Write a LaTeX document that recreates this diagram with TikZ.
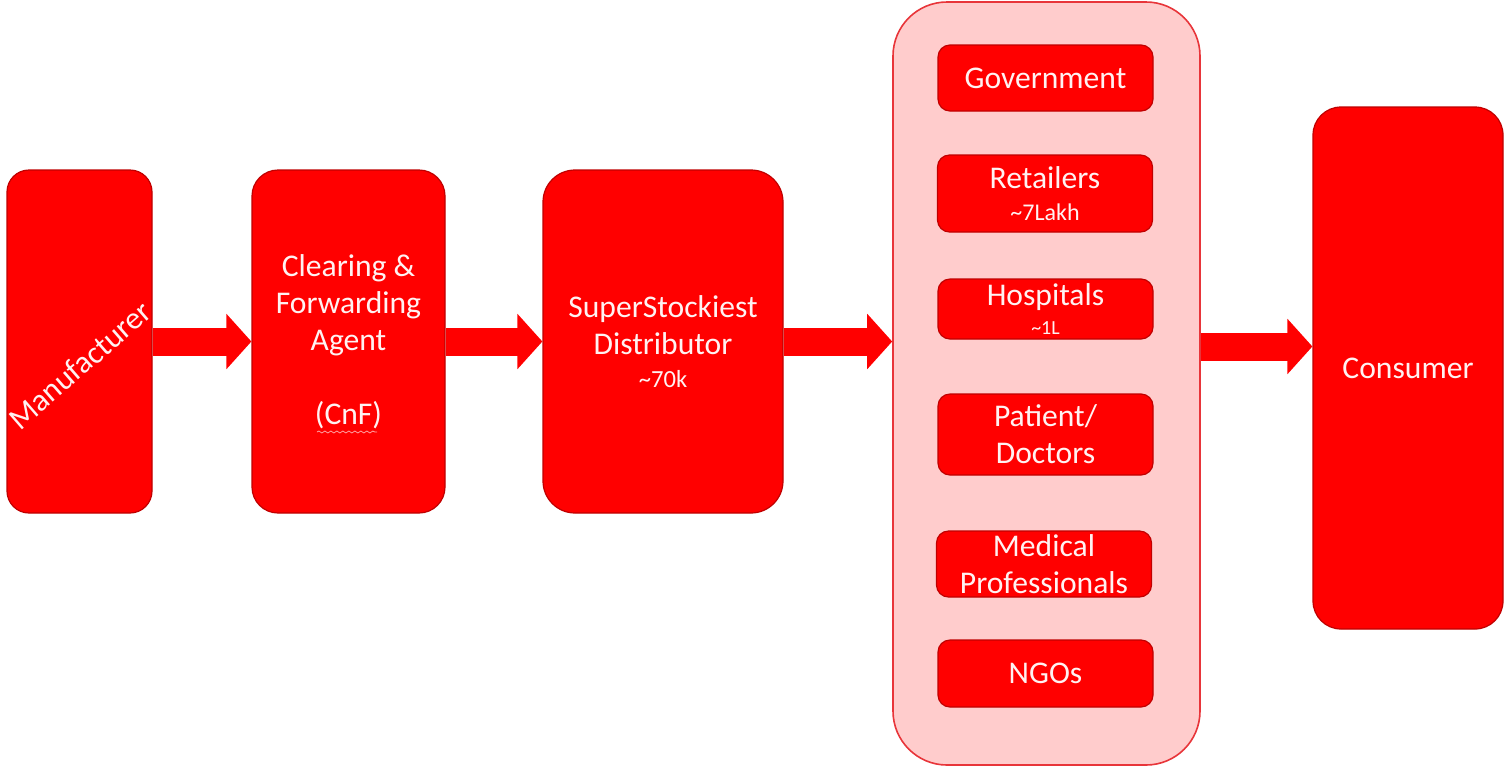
\documentclass[tikz,border=0pt]{standalone}
\usepackage{fontspec}
\setmainfont{Carlito}
\usetikzlibrary{arrows.meta,decorations.pathmorphing}
\definecolor{boxred}{HTML}{FF0000}
\definecolor{edgered}{HTML}{C00000}
\definecolor{panelpink}{HTML}{FFCCCC}
\definecolor{paneledge}{HTML}{E8353A}
\definecolor{txt}{HTML}{FFF2F2}
\tikzset{
  redbox/.style={draw=edgered, line width=0.6pt, fill=boxred, rounded corners=#1,
    text=txt, align=center, inner sep=0pt, font=\fontsize{15.8}{18.5}\selectfont},
  redbox/.default=11pt,
  subbox/.style={redbox=6pt, minimum width=107.5pt},
  blockarrow/.style={draw=boxred, line width=14pt, line cap=butt,
    -{Triangle[width=27pt,length=12.5pt]}},
}
\begin{document}
\begin{tikzpicture}[x=0.5pt,y=-0.5pt]
\path[use as bounding box, fill=white] (0,0) rectangle (1505,767);

% main chain
\node[redbox=11pt, minimum width=72.5pt, minimum height=171.5pt] (man) at (79.5,341.5) {};
\node[rotate=41, text=txt, inner sep=0pt, font=\fontsize{15.8}{18}\selectfont] (manlabel) at (80,365) {Manufacturer};

\node[redbox=13pt, minimum width=96.5pt, minimum height=171.5pt] (cnf) at (348.5,341.5)
  {Clearing \&\\Forwarding\\Agent\\[18.5pt](CnF)};
\draw[txt!70!red, line width=0.4pt, decorate,
  decoration={snake, segment length=3pt, amplitude=0.5pt}]
  (317,432) -- (377,432);

\node[redbox=16pt, minimum width=120pt, minimum height=171.5pt] (ss) at (663,341.5)
  {SuperStockiest\\Distributor\\[-2pt]{\fontsize{12.3}{13}\selectfont \char"7E 70k}};

% panel
\node[draw=paneledge, line width=0.8pt, fill=panelpink, rounded corners=27pt,
  minimum width=153.5pt, minimum height=381.5pt, inner sep=0pt] (panel) at (1046.5,383.5) {};

\node[subbox, minimum height=33pt] (gov) at (1045.5,78) {\raisebox{-1pt}{Government}};
\node[subbox, minimum height=38.5pt] (ret) at (1045,193.5)
  {Retailers\\[-2.5pt]{\fontsize{12}{13}\selectfont \char"7E 7Lakh}};
\node[subbox, minimum height=30pt] (hosp) at (1045.5,309)
  {Hospitals\\[-4pt]{\fontsize{10}{11}\selectfont \char"7E 1L}};
\node[subbox, minimum height=40.5pt] (pat) at (1045.5,434.5) {Patient/\\Doctors};
\node[subbox, minimum height=33pt] (med) at (1044,564) {Medical\\Professionals};
\node[subbox, minimum height=33.5pt] (ngo) at (1045.5,673.5) {\raisebox{-1pt}{NGOs}};

\node[redbox=14pt, minimum width=95pt, minimum height=261pt] (cons) at (1408,368) {\raisebox{-1.5pt}{Consumer}};

% arrows
\draw[blockarrow] (man.east) -- (cnf.west);
\draw[blockarrow] (cnf.east) -- (ss.west);
\draw[blockarrow] (ss.east) -- (panel.west |- ss.east);
\draw[blockarrow] (panel.east |- 0,346.5) -- (cons.west |- 0,346.5);
\end{tikzpicture}
\end{document}
